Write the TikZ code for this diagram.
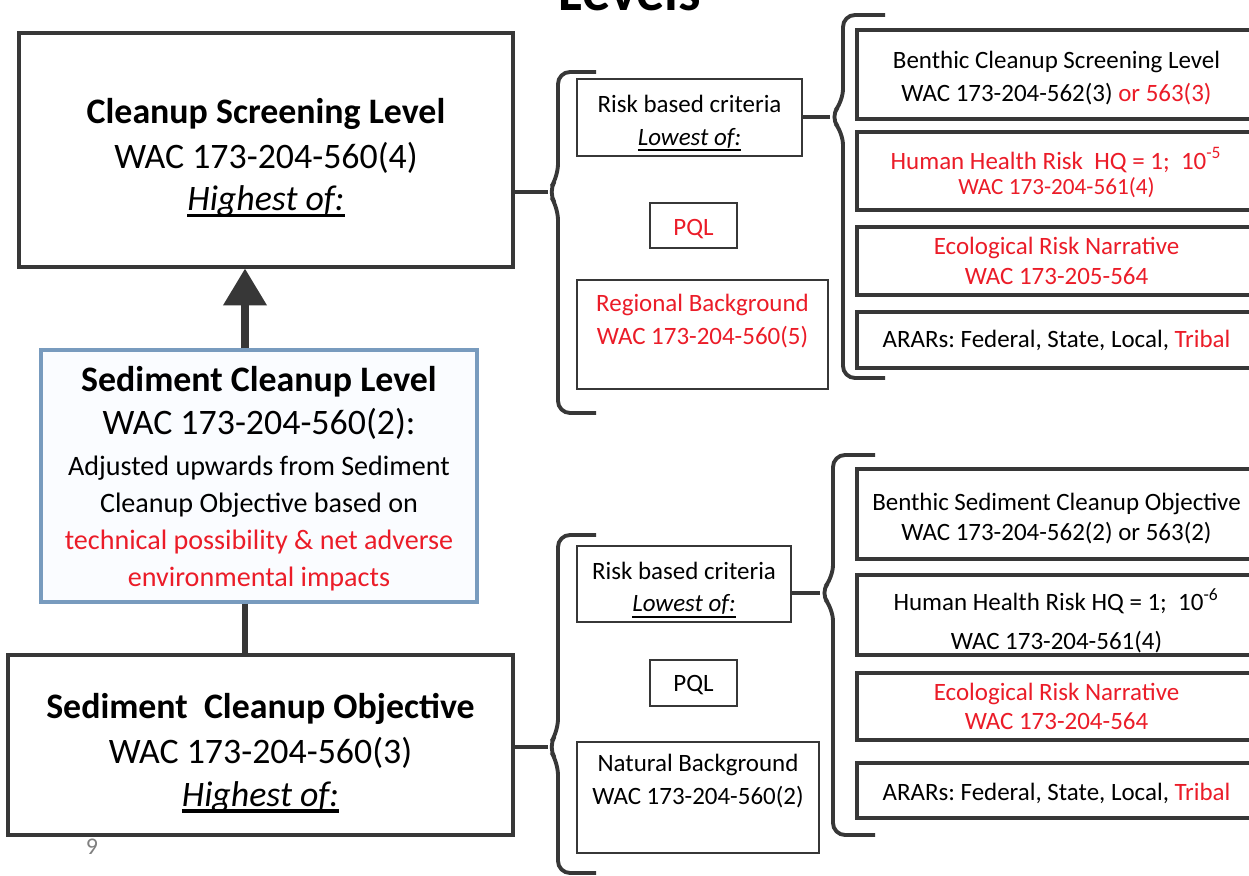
\documentclass[tikz,border=0pt]{standalone}
\usepackage{fontspec}
\setmainfont{Carlito}
\usepackage{tikz}
\usetikzlibrary{arrows.meta}
\usetikzlibrary{calc}
\frenchspacing

\definecolor{wacred}{RGB}{235,28,40}
\definecolor{boxgray}{RGB}{55,55,55}
\definecolor{sclblue}{RGB}{120,155,190}
\definecolor{sclfill}{RGB}{250,252,255}

% extra room above the first line, pushes a box text down
\newcommand{\droptext}[2]{\raisebox{0pt}[\dimexpr\height+#1\relax]{#2}}
% heavier underline
\newcommand{\thickul}[2]{\setbox0=\hbox{#2}\rlap{\copy0}\rule[-1.8pt]{\wd0}{#1}}

\tikzset{
  levelbox/.style={draw=boxgray, line width=0.9pt, align=center, inner sep=0pt, font=\fontsize{10.2}{12.5}\selectfont},
  critbox/.style={draw=boxgray, line width=0.6pt, align=center, inner sep=0pt, font=\fontsize{7.1}{9.2}\selectfont},
  rulebox/.style={draw=boxgray, line width=0.9pt, align=center, inner sep=0pt, minimum width=3.99cm, font=\fontsize{7.1}{8.5}\selectfont},
  bracket/.style={draw=boxgray, line width=1.1pt, rounded corners=1.2mm},
  link/.style={draw=boxgray, line width=1.1pt},
  uparrow/.style={draw=boxgray, line width=2pt, -{Triangle[width=12pt,length=10.5pt]}},
  stemline/.style={draw=boxgray, line width=1.8pt}
}

\begin{document}
\begin{tikzpicture}[y=-1cm]
	\useasboundingbox (0,0) rectangle (12.49,8.76);
	\fill[white] (0,0) rectangle (12.49,8.76);

	% title, cut off at the top
	\node[anchor=base, font=\fontsize{16}{18}\selectfont\bfseries] (title) at (6.30,0.11) {Levels};

	% left column
	\node[levelbox, minimum width=4.94cm, minimum height=2.34cm] (csl) at (2.66,1.50)
		{\droptext{4.2pt}{\bfseries Cleanup Screening Level}\\[0.5pt] WAC 173-204-560(4)\\[-0.6pt] \thickul{0.9pt}{\itshape Highest of:}};
	\node[levelbox, draw=sclblue, fill=sclfill, minimum width=4.36cm, minimum height=2.52cm, font=\fontsize{8}{10.5}\selectfont] (scl) at (2.59,4.76)
		{\droptext{1.7pt}{\fontsize{10.2}{12}\selectfont\bfseries Sediment Cleanup Level}\\[1.7pt]
		 {\fontsize{10.2}{12}\selectfont WAC 173-204-560(2):}\\[1.2pt]
		 Adjusted upwards from Sediment\\ Cleanup Objective based on\\
		 \textcolor{wacred}{technical possibility \& net adverse}\\ \textcolor{wacred}{environmental impacts}};
	\node[levelbox, minimum width=5.05cm, minimum height=1.80cm] (sco) at (2.605,7.45)
		{\droptext{4.4pt}{\bfseries Sediment\ \ Cleanup Objective}\\[0.5pt] WAC 173-204-560(3)\\[-0.4pt] \thickul{0.9pt}{\itshape Highest of:}};
	\node[text=gray, font=\fontsize{6.8}{8}\selectfont] (page) at (0.92,8.47) {9};

	\coordinate (stem) at (2.45,0);
	\draw[uparrow] (scl.north -| stem) -- (csl.south -| stem);
	\draw[stemline] (scl.south -| stem) -- (sco.north -| stem);

	% middle column, upper
	\node[critbox, minimum width=2.25cm, minimum height=0.77cm] (riskA) at (6.895,1.175)
		{\droptext{3.4pt}{Risk based criteria}\\ \thickul{0.6pt}{\itshape Lowest of:}};
	\node[critbox, minimum width=0.87cm, minimum height=0.45cm, text=wacred] (pqlA) at (6.935,2.255) {\droptext{2.3pt}{PQL}};
	\node[critbox, minimum width=2.51cm, minimum height=1.09cm, text=wacred] (regA) at (7.025,3.345)
		{\droptext{3.4pt}{Regional Background}\\ WAC 173-204-560(5)\\ \strut};

	% middle column, lower
	\node[critbox, minimum width=2.14cm, minimum height=0.76cm] (riskB) at (6.84,5.84)
		{\droptext{3.6pt}{Risk based criteria}\\ \thickul{0.6pt}{\itshape Lowest of:}};
	\node[critbox, minimum width=0.87cm, minimum height=0.46cm] (pqlB) at (6.935,6.83) {\droptext{1.1pt}{PQL}};
	\node[critbox, minimum width=2.42cm, minimum height=1.11cm] (natB) at (6.98,7.975)
		{\droptext{1.7pt}{Natural Background}\\ WAC 173-204-560(2)\\ \strut};

	% right column, upper
	\node[rulebox, minimum height=0.89cm] (benA) at (10.565,0.745)
		{\droptext{2pt}{Benthic Cleanup Screening Level}\\[0.9pt] WAC 173-204-562(3) \textcolor{wacred}{or 563(3)}};
	\node[rulebox, minimum height=0.78cm, text=wacred] (hhA) at (10.565,1.71)
		{\droptext{0.9pt}{Human Health Risk\ \ HQ = 1;\ \ 10\textsuperscript{-5}}\\[-1.5pt] {\fontsize{6.6}{7}\selectfont WAC 173-204-561(4)}};
	\node[rulebox, minimum height=0.68cm, text=wacred] (ecoA) at (10.565,2.61)
		{Ecological Risk Narrative\\ WAC 173-205-564};
	\node[rulebox, minimum height=0.56cm] (ararA) at (10.565,3.40)
		{ARARs: Federal, State, Local, \textcolor{wacred}{Tribal}};

	% right column, lower
	\node[rulebox, minimum height=0.90cm] (benB) at (10.565,5.14)
		{\droptext{2.6pt}{Benthic Sediment Cleanup Objective}\\ WAC 173-204-562(2) or 563(2)};
	\node[rulebox, minimum height=0.80cm] (hhB) at (10.565,6.15)
		{\droptext{3.4pt}{Human Health Risk HQ = 1;\ \ 10\textsuperscript{-6}}\\[2.6pt] WAC 173-204-561(4)};
	\node[rulebox, minimum height=0.67cm, text=wacred] (ecoB) at (10.565,7.065)
		{Ecological Risk Narrative\\ WAC 173-204-564};
	\node[rulebox, minimum height=0.55cm] (ararB) at (10.565,7.905)
		{\droptext{1.7pt}{ARARs: Federal, State, Local, \textcolor{wacred}{Tribal}}};

	% braces
	\coordinate (tipA) at (5.48,1.92);
	\coordinate (tipB) at (8.30,1.17);
	\coordinate (tipC) at (5.48,7.47);
	\coordinate (tipD) at (8.20,5.93);
	\draw[bracket] (5.96,0.72) -- (5.58,0.72) -- (5.58,1.76) -- (tipA) -- (5.58,2.08) -- (5.58,4.13) -- (5.96,4.13);
	\draw[bracket] (8.85,0.15) -- (8.43,0.15) -- (8.43,1.01) -- (tipB) -- (8.43,1.33) -- (8.43,3.78) -- (8.85,3.78);
	\draw[bracket] (5.96,5.35) -- (5.58,5.35) -- (5.58,7.31) -- (tipC) -- (5.58,7.63) -- (5.58,8.73) -- (5.96,8.73);
	\draw[bracket] (8.75,4.55) -- (8.33,4.55) -- (8.33,5.77) -- (tipD) -- (8.33,6.09) -- (8.33,8.35) -- (8.75,8.35);

	\draw[link] (tipA -| csl.east) -- (tipA);
	\draw[link] (tipB -| riskA.east) -- (tipB);
	\draw[link] (tipC -| sco.east) -- (tipC);
	\draw[link] (tipD -| riskB.east) -- (tipD);
\end{tikzpicture}
\end{document}
